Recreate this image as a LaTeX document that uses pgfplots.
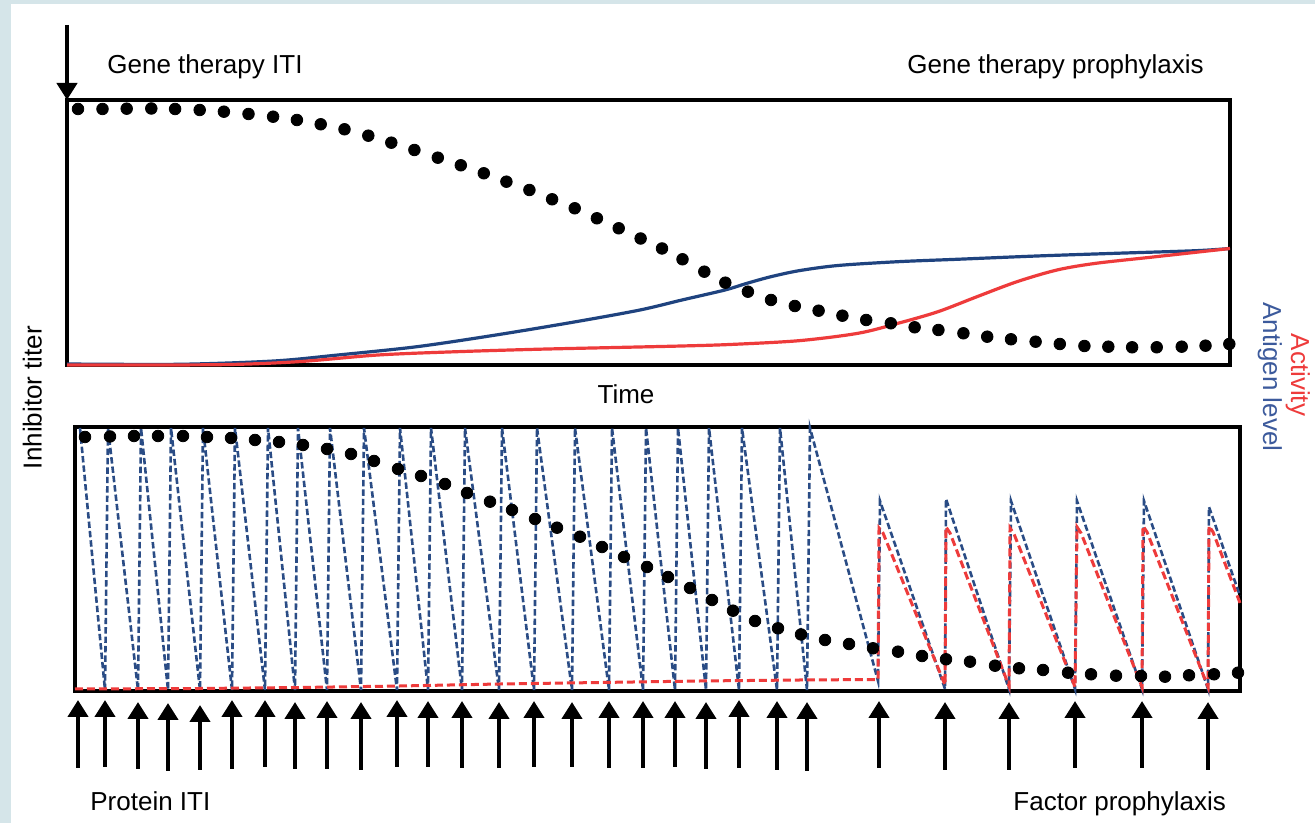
\documentclass[border=0pt]{standalone}
\usepackage{fontspec}
\setmainfont{Liberation Sans}
\usepackage{pgfplots}
\pgfplotsset{compat=1.18}
\usetikzlibrary{arrows.meta}
\definecolor{bgblue}{HTML}{D5E5E9}
\definecolor{tblue}{HTML}{1F437F}
\definecolor{dblue}{HTML}{2A4C85}
\definecolor{tred}{HTML}{EE3B3B}
\definecolor{lblue}{HTML}{3C5A9C}
\begin{document}
\begin{tikzpicture}[lab/.style={font=\fontsize{13}{15}\selectfont, inner sep=0pt}]
\fill[bgblue] (0,0) rectangle (657.5pt,411.5pt);
\fill[white] (5.5pt,0) rectangle (657.5pt,409.5pt);
\pgfplotsset{panel/.style={scale only axis, clip=false, xtick=\empty, ytick=\empty,
  axis line style={line width=1.8pt, black}, anchor=south west}}
% ---------------- top panel: gene therapy ----------------
\begin{axis}[panel, at={(33.5pt,229pt)}, width=581.5pt, height=132.5pt,
  xmin=67, xmax=1230, ymin=0, ymax=265]
\addplot[only marks, mark=*, mark size=2.9pt, black] table {
78 256
102.5 256
126.7 256.3
151.3 256.5
175.1 256
199.7 255
223.9 253.3
248.5 251
273.1 248.3
296.9 245
320.7 240.7
344.5 235.7
368.3 229.3
391.3 222.3
414.4 215
437.8 207.3
460.8 199.7
483.8 191.7
506.4 183.3
529.4 175
552.1 165.7
574.7 156.7
596.9 146.7
618.7 136.7
640.6 126.5
662 116.5
682.5 105.7
704.3 93.3
725.3 82.3
747.9 73.3
771 65
794.8 59
818.6 54.3
842.4 49.3
866.2 45
890.8 41.7
914.6 37.7
938.4 35
963.4 31.7
987.2 28.3
1011 25.7
1035.6 23.3
1059.8 21
1084.4 19
1108.3 18.3
1132.1 17.7
1156.7 17.7
1181.7 18.3
1205.5 19.3
1229.3 21
};
\addplot[tblue, line width=1.6pt, smooth, tension=0.5] table {
67 1
179 0.7
274 4
338 10
417 18.3
496 30
576 43.3
640 55
682 65
725 75
747 81.7
771 88.3
799 94.3
838 99.5
898 103.3
957 105.7
1037 109
1116 111.7
1196 114.3
1230 116.5
};
\addplot[tred, line width=1.6pt, smooth, tension=0.5] table {
67 0
219 0.3
298 3.3
378 10
457 13.3
536 15.7
616 17.5
682 19
730 20.5
799 24.3
858 31.7
898 41.7
938 53.3
977 68.3
1017 83.3
1057 95
1096 101.7
1156 108.3
1230 116.5
};
\addplot[quiver={u=0,v=\thisrow{v}}, -{Triangle[width=10pt,length=8.5pt]}, line width=2.4pt, black]
  table[x=x,y=y] {
x y v
67 340 -75
};
\end{axis}
% ---------------- bottom panel: protein ----------------
\begin{axis}[panel, at={(37.5pt,66pt)}, width=582.5pt, height=132pt,
  xmin=75, xmax=1240, ymin=0, ymax=264]
\addplot[only marks, mark=*, mark size=2.9pt, black] table {
85 254
110 254.5
134 255
158 255
183 255
207 254
231 253
255 251
279 249
303 246
327 242
351 237
374 230
398 222
421 215
445 207
467 198
490 189.3
512 181
535 172
557 163.3
580 154.3
602 144
624 134
647 124
668 114
690 103
712 91
733 80.3
755 70
778 62.7
801 56.5
825 51
849 47
873 42.7
898 39.3
922 35
946 31.7
970 29.3
995 25.3
1019 22.7
1043 21
1068 18.3
1091 16.7
1116 15.3
1141 15
1165 14.3
1189 15.7
1214 16.7
1238 18.3
};
\addplot[dblue, line width=1.3pt, dash pattern=on 3.2pt off 1.5pt] table {
80 263
105 1
108 263
138 1
141 263
168 1
171 263
200 1
203 263
232 1
235 263
265 1
268 263
295 1
298 263
327 1
330 263
361 1
364 263
397 1
400 263
428 1
431 263
462 1
465 263
499 1
502 263
534 1
537 263
572 1
575 263
609 1
612 263
643 1
646 263
675 1
678 263
706 1
709 263
739 1
742 263
777 1
780 263
807 1
810 263
878 10
880 190
945 2
946 192
1009 2
1011 190
1075 2
1077 190
1142 2
1144 190
1208 2
1209 184
1240 95
};
\addplot[tred, line width=1.5pt, dash pattern=on 4pt off 2pt] table {
75 2
200 2.5
300 3.5
400 5
500 7
600 8.5
700 10
800 11
878 11.5
879 163
883 158
945 6
946 164
950 158
1009 5
1010 163
1014 157
1075 4
1077 164
1081 158
1142 4
1143 165
1147 159
1208 4
1209 165
1213 159
1240 88
};
\addplot[quiver={u=0,v=\thisrow{v}}, -{Triangle[width=10pt,length=8.5pt]}, line width=2.4pt, black]
  table[x=x,y=y] {
x y v
78 -77 68
105 -76 67
138 -78 67
168 -80 68
200 -79 65
232 -78 69
265 -76 67
295 -78 67
327 -78 68
361 -79 68
397 -76 67
428 -76 66
462 -77 67
499 -77 66
534 -76 66
572 -76 65
609 -77 67
643 -77 67
675 -76 66
706 -78 67
739 -77 68
777 -79 69
807 -80 69
879 -77 67
945 -79 68
1009 -79 68
1075 -77 67
1142 -77 67
1208 -79 68
};
\end{axis}
% ---------------- labels ----------------
\node[lab, anchor=base west] at (53.5pt,374.5pt) {Gene therapy ITI};
\node[lab, anchor=base west] at (453.5pt,374.5pt) {Gene therapy prophylaxis};
\node[lab, anchor=base] at (313pt,209.5pt) {Time};
\node[lab, anchor=base west] at (45pt,6pt) {Protein ITI};
\node[lab, anchor=base west] at (506.5pt,6pt) {Factor prophylaxis};
\node[lab, rotate=90, anchor=base] at (20.75pt,212.75pt) {Inhibitor titer};
\node[lab, rotate=-90, anchor=base, text=lblue] at (631.5pt,223pt) {Antigen level};
\node[lab, rotate=-90, anchor=base, text=tred] at (645.5pt,224pt) {Activity};
\pgfresetboundingbox
\path[use as bounding box] (0,0) rectangle (657.5pt,411.5pt);
\end{tikzpicture}
\end{document}
